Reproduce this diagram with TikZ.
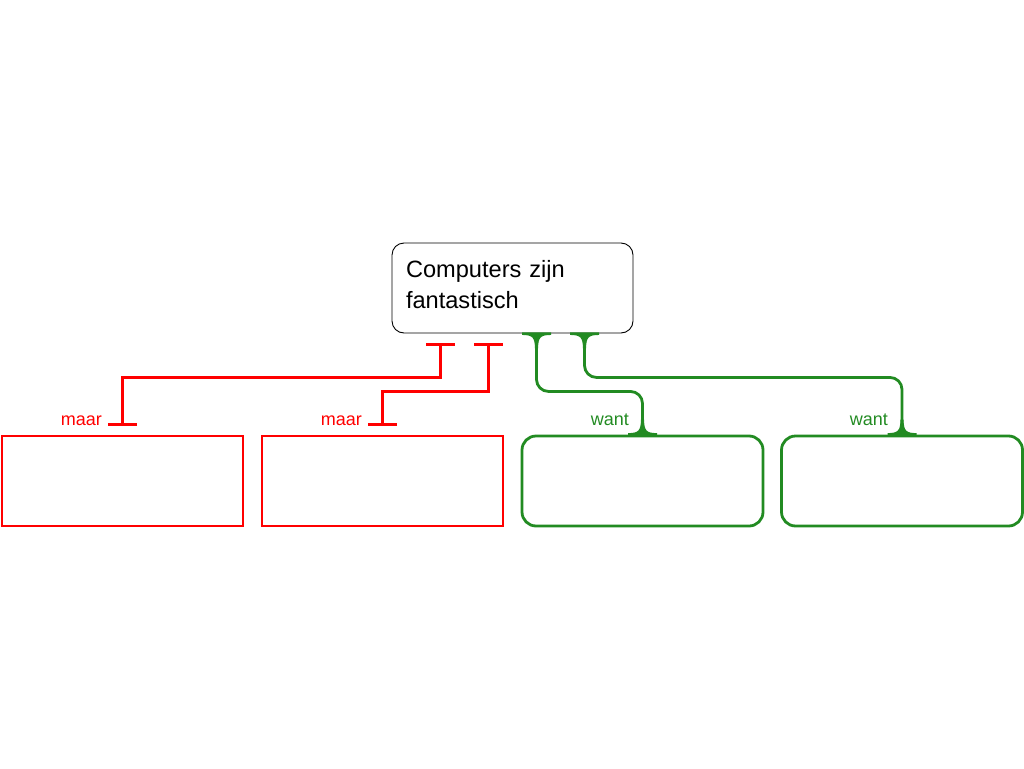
\documentclass[tikz,border=0pt]{standalone}
\usepackage{fontspec}
\setmainfont{Liberation Sans}
\usetikzlibrary{arrows.meta}
\definecolor{wantgreen}{RGB}{34,139,34}
\tikzset{
	claim/.style={
		draw,
		line width = 0.9pt,
		rounded corners = 12pt,
		text width = 213pt,
		inner xsep = 14pt,
		minimum height = 90pt,
		align = left,
		font = \fontsize{23.6}{31}\selectfont
	},
	maarbox/.style={
		draw = red,
		line width = 2.8pt,
		minimum width = 241pt,
		minimum height = 90pt
	},
	wantbox/.style={
		draw = wantgreen,
		line width = 2.8pt,
		rounded corners = 14pt,
		minimum width = 241pt,
		minimum height = 90pt
	},
	maarline/.style={
		draw = red,
		line width = 2.8pt,
		{Bar[width=29pt]}-{Bar[width=29pt]}
	},
	wantline/.style={
		draw = wantgreen,
		line width = 2.8pt,
		rounded corners = 12pt
	},
	lbl/.style={
		anchor = base east,
		inner sep = 0pt,
		font = \fontsize{18}{20}\selectfont
	},
	flare/.pic={
		\fill (-14.5,-1) -- (-14.5,1.5) .. controls (-4,1.5) and (-1.6,4) .. (-1.6,15)
		      -- (1.6,15) .. controls (1.6,4) and (4,1.5) .. (14.5,1.5) -- (14.5,-1) -- cycle;
	},
}

\begin{document}
\begin{tikzpicture}[x=1pt, y=-1pt]
    \useasboundingbox (0,0) rectangle (1024,768);
    \node[claim] (main) at (512.5,288) {Computers zijn\\fantastisch\rule[-7pt]{0pt}{7pt}};
    \node[maarbox] (b1) at (122.5,481) {};
    \node[maarbox] (b2) at (382.5,481) {};
    \node[wantbox] (b3) at (642.5,481) {};
    \node[wantbox] (b4) at (902,481) {};
    % maar
    \draw[maarline] ([xshift=-72pt,yshift=-10pt]main.south) -- ++(0,34) -| ([yshift=9pt]b1.north);
    \draw[maarline] ([xshift=-24pt,yshift=-10pt]main.south) -- ++(0,48) -| ([yshift=9pt]b2.north);
    \node[lbl, text=red] (m1) at (102,425) {maar};
    \node[lbl, text=red] (m2) at (362,425) {maar};
    % want
    \draw[wantline] ([xshift=24pt]main.south) -- ++(0,58) -| (b3.north);
    \draw[wantline] ([xshift=72pt]main.south) -- ++(0,44) -| (b4.north);
    \foreach \x in {24, 72}{
      \pic[wantgreen] at ([xshift=\x pt]main.south) {flare};
    }
    \pic[wantgreen, yscale=-1] at (b3.north) {flare};
    \pic[wantgreen, yscale=-1] at (b4.north) {flare};
    \node[lbl, text=wantgreen] (w1) at (629,425) {want};
    \node[lbl, text=wantgreen] (w2) at (888,425) {want};
  \end{tikzpicture}
\end{document}
